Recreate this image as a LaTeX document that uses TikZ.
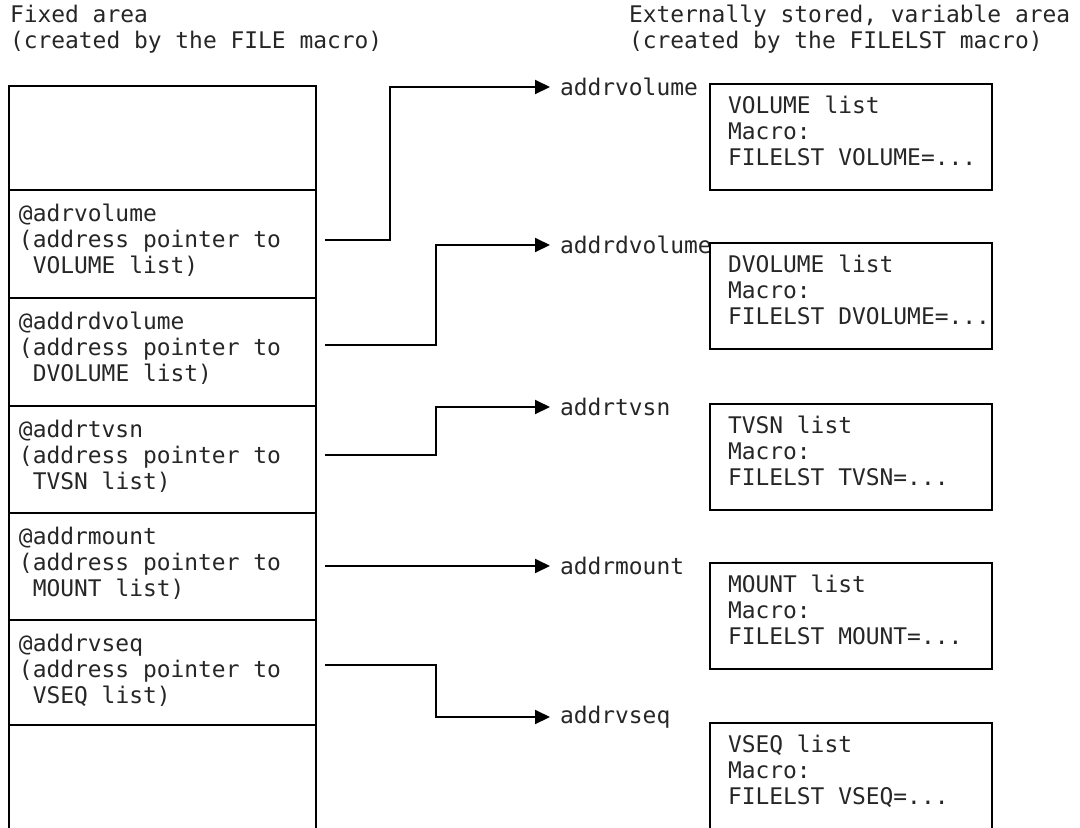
\documentclass[tikz,border=0pt]{standalone}
\usepackage{fontspec}
\setmonofont{DejaVu Sans Mono}
\usetikzlibrary{arrows.meta}
\newcommand{\memfont}{\ttfamily\fontsize{22.9}{26}\selectfont}
\tikzset{
  memtext/.style={anchor=north west, inner sep=0pt, align=left, font=\memfont, text=black!85},
  ptrlab/.style={anchor=west, inner xsep=9pt, inner ysep=0pt, font=\memfont, text=black!85},
  ptr/.style={-{Triangle[length=15pt,width=14pt]}, line width=2pt},
}

\begin{document}
\begin{tikzpicture}[x=1pt, y=-1pt, line width=2pt]
  \useasboundingbox (0,0) rectangle (1080,828);

  \node[memtext] (hdfix) at (9,4) {Fixed area\\(created by the FILE macro)};
  \node[memtext] (hdext) at (628,4)
    {Externally stored, variable area\\(created by the FILELST macro)};

  % fixed area, runs on past the bottom edge
  \draw (9,828) -- (9,86) -- (316,86) -- (316,828);
  \foreach \y in {190,298,406,513,620,725}{
    \draw (9,\y) -- (316,\y);
  }
  \foreach \y/\nm/\lst in {
    190/adrvolume/VOLUME,
    298/addrdvolume/DVOLUME,
    406/addrtvsn/TVSN,
    513/addrmount/MOUNT,
    620/addrvseq/VSEQ}{
    \node[memtext] (f\nm) at (18,\y+13)
      {@\nm\\(address pointer to\\\phantom{(}\lst\ list)};
  }

  % pointers to the externally stored lists
  \foreach \nm/\ys/\xv/\ye in {
    addrvolume/240/390/87,
    addrdvolume/345/436/245,
    addrtvsn/455/436/407,
    addrmount/566/436/566,
    addrvseq/665/436/717}{
    \node[ptrlab] (l\nm) at (550,\ye) {\nm};
    \coordinate (s\nm) at (325,\ys);
    \draw[ptr] (s\nm) -- (\xv,\ys) |- (l\nm.west);
  }

  % variable area
  \foreach \y/\lst in {
    84/VOLUME,
    243/DVOLUME,
    404/TVSN,
    563/MOUNT}{
    \draw (710,\y) rectangle (992,\y+106);
  }
  \draw (710,828) -- (710,723) -- (992,723) -- (992,828);
  \foreach \y/\lst in {
    84/VOLUME,
    243/DVOLUME,
    404/TVSN,
    563/MOUNT,
    723/VSEQ}{
    \node[memtext] (b\lst) at (727,\y+11)
      {\lst\ list\\Macro:\\FILELST \lst=...};
  }
\end{tikzpicture}
\end{document}
